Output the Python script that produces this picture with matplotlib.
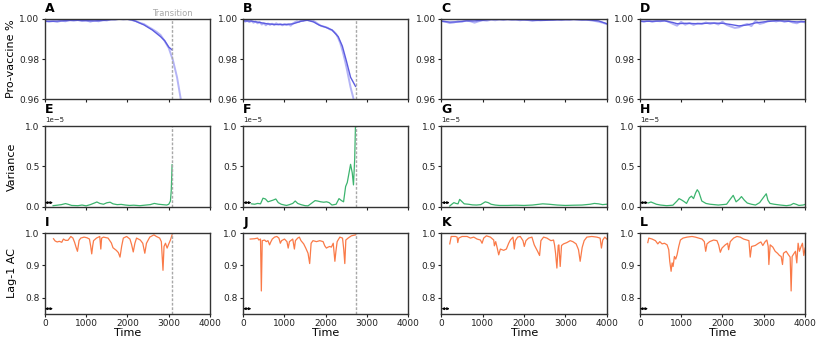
"""
Early-warning indicators for the four simulated runs:
pro-vaccine share, rolling variance and lag-1 autocorrelation.
"""

import numpy as np
import matplotlib
matplotlib.use("Agg")
import matplotlib.pyplot as plt

BLUE, BLUE_LIGHT, GREEN, ORANGE, GRAY = "#5c5ce0", "#b4b4f6", "#3cb46e", "#fa7a48", "#a8a8a8"

LETTERS = "ABCDEFGHIJKL"
TRANSITIONS = [3080, 2720, None, None]   # time of the transition (runs A/B only)
WINDOW = 200                             # rolling window shown by the little arrow
XTICKS = [0, 1000, 2000, 3000, 4000]

# ---- row 1: pro-vaccine fraction (raw, sampled on a regular grid) ----
A_RAW_T = np.arange(0, 3301, 100)
A_RAW = [0.9990, 0.9986, 0.9989, 0.9985, 0.9991, 0.9988, 0.9995, 0.9991, 0.9994, 0.9989,
         0.9993, 0.9986, 0.9992, 0.9988, 0.9994, 0.9992, 0.9998, 0.9996, 1.0000, 0.9997,
         0.9999, 0.9994, 0.9989, 0.9980, 0.9974, 0.9961, 0.9949, 0.9936, 0.9920, 0.9890,
         0.9855, 0.9795, 0.9710, 0.9590]
B_RAW_T = np.arange(0, 2701, 50)
B_RAW = [0.9993, 0.9986, 0.9991, 0.9984, 0.9990, 0.9981, 0.9987, 0.9978, 0.9985, 0.9972,
         0.9978, 0.9968, 0.9977, 0.9970, 0.9976, 0.9969, 0.9978, 0.9972, 0.9975, 0.9968,
         0.9974, 0.9969, 0.9972, 0.9966, 0.9977, 0.9983, 0.9988, 0.9985, 0.9993, 0.9990,
         0.9997, 0.9994, 0.9996, 0.9992, 0.9990, 0.9984, 0.9976, 0.9970, 0.9964, 0.9962,
         0.9959, 0.9955, 0.9948, 0.9944, 0.9936, 0.9925, 0.9905, 0.9880, 0.9845, 0.9805,
         0.9760, 0.9710, 0.9660, 0.9620, 0.9580]
C_RAW_T = np.arange(0, 4001, 100)
C_RAW = [0.9990, 0.9986, 0.9979, 0.9982, 0.9988, 0.9986, 0.9992, 0.9988, 0.9981, 0.9988,
         0.9993, 0.9991, 0.9996, 0.9993, 0.9997, 0.9994, 0.9998, 0.9995, 0.9997, 0.9993,
         0.9996, 0.9994, 0.9990, 0.9993, 0.9996, 0.9994, 0.9997, 0.9995, 0.9998, 0.9994,
         0.9997, 0.9995, 0.9998, 0.9996, 0.9994, 0.9997, 0.9993, 0.9990, 0.9986, 0.9981,
         0.9974]
D_RAW_T = np.arange(0, 4001, 100)
D_RAW = [0.9990, 0.9985, 0.9992, 0.9985, 0.9990, 0.9988, 0.9993, 0.9985, 0.9975, 0.9966,
         0.9985, 0.9971, 0.9980, 0.9970, 0.9978, 0.9974, 0.9982, 0.9975, 0.9980, 0.9972,
         0.9986, 0.9970, 0.9962, 0.9955, 0.9958, 0.9968, 0.9975, 0.9964, 0.9990, 0.9975,
         0.9980, 0.9990, 0.9992, 0.9987, 0.9993, 0.9985, 0.9990, 0.9982, 0.9978, 0.9988,
         0.9982]

# smoothed pro-vaccine fraction, (time, value)
A_SMOOTH = [(0, 0.9988), (200, 0.9988), (400, 0.9990), (600, 0.9992), (800, 0.9993),
            (1000, 0.9991), (1200, 0.9990), (1400, 0.9992), (1600, 0.9996), (1800, 0.9998),
            (2000, 0.9998), (2100, 0.9995), (2200, 0.9988), (2400, 0.9970), (2600, 0.9945),
            (2800, 0.9912), (2900, 0.9892), (3000, 0.9860), (3080, 0.9846)]
B_SMOOTH = [(0, 0.9990), (200, 0.9989), (400, 0.9982), (600, 0.9975), (800, 0.9972),
            (1000, 0.9972), (1200, 0.9975), (1400, 0.9988), (1550, 0.9993), (1700, 0.9985),
            (1850, 0.9968), (2000, 0.9958), (2150, 0.9945), (2300, 0.9912), (2400, 0.9865),
            (2500, 0.9790), (2600, 0.9710), (2720, 0.9665)]
C_SMOOTH = [(0, 0.9988), (200, 0.9984), (400, 0.9985), (600, 0.9990), (800, 0.9990),
            (1000, 0.9993), (1200, 0.9997), (1600, 0.9997), (2000, 0.9995), (2400, 0.9992),
            (2800, 0.9995), (3200, 0.9997), (3600, 0.9994), (3800, 0.9990), (4000, 0.9976)]
D_SMOOTH = [(0, 0.9988), (300, 0.9988), (600, 0.9990), (800, 0.9982), (900, 0.9976),
            (1100, 0.9978), (1400, 0.9976), (1700, 0.9979), (2000, 0.9978), (2200, 0.9972),
            (2400, 0.9965), (2600, 0.9970), (2800, 0.9980), (3000, 0.9985), (3300, 0.9991),
            (3600, 0.9988), (3800, 0.9985), (4000, 0.9986)]

# ---- row 2: rolling variance, in units of 1e-5 ----
E_VAR = [(200, 0.012), (300, 0.018), (400, 0.025), (500, 0.038), (560, 0.030), (650, 0.015),
         (800, 0.012), (900, 0.020), (1000, 0.010), (1100, 0.025), (1200, 0.045), (1260, 0.058),
         (1330, 0.040), (1420, 0.030), (1500, 0.048), (1580, 0.055), (1650, 0.035), (1750, 0.025),
         (1850, 0.028), (1950, 0.020), (2050, 0.015), (2150, 0.018), (2300, 0.012), (2450, 0.020),
         (2550, 0.025), (2650, 0.040), (2750, 0.030), (2850, 0.025), (2950, 0.020), (3000, 0.030),
         (3040, 0.070), (3060, 0.200), (3080, 0.520)]
F_VAR = [(200, 0.035), (280, 0.030), (350, 0.040), (420, 0.035), (480, 0.105), (540, 0.095),
         (600, 0.060), (660, 0.070), (720, 0.080), (790, 0.095), (850, 0.050), (920, 0.030),
         (1000, 0.020), (1050, 0.015), (1120, 0.025), (1200, 0.040), (1260, 0.070), (1320, 0.040),
         (1400, 0.025), (1500, 0.012), (1570, 0.010), (1650, 0.040), (1740, 0.075), (1800, 0.070),
         (1880, 0.060), (1950, 0.055), (2020, 0.060), (2080, 0.050), (2150, 0.020), (2250, 0.030),
         (2320, 0.100), (2380, 0.075), (2430, 0.060), (2480, 0.250), (2520, 0.300), (2600, 0.525),
         (2640, 0.420), (2670, 0.270), (2700, 0.600), (2720, 1.050)]
G_VAR = [(200, 0.008), (250, 0.030), (300, 0.050), (350, 0.040), (400, 0.035), (440, 0.090),
         (480, 0.070), (550, 0.035), (650, 0.030), (750, 0.022), (850, 0.020), (950, 0.025),
         (1060, 0.060), (1130, 0.050), (1200, 0.030), (1300, 0.020), (1400, 0.015), (1600, 0.015),
         (1800, 0.018), (2000, 0.015), (2200, 0.020), (2450, 0.035), (2600, 0.030), (2800, 0.020),
         (3000, 0.015), (3200, 0.018), (3400, 0.020), (3600, 0.030), (3700, 0.040), (3800, 0.035),
         (3900, 0.025), (4000, 0.030)]
H_VAR = [(200, 0.045), (270, 0.058), (330, 0.045), (400, 0.030), (500, 0.020), (650, 0.012),
         (800, 0.018), (900, 0.070), (950, 0.100), (1020, 0.080), (1080, 0.060), (1130, 0.040),
         (1200, 0.110), (1250, 0.130), (1300, 0.100), (1350, 0.170), (1390, 0.210), (1430, 0.180),
         (1500, 0.070), (1600, 0.040), (1700, 0.030), (1800, 0.025), (1900, 0.020), (2000, 0.025),
         (2100, 0.030), (2200, 0.100), (2260, 0.140), (2330, 0.060), (2400, 0.090), (2460, 0.125),
         (2530, 0.080), (2600, 0.045), (2700, 0.030), (2800, 0.020), (2900, 0.050), (3000, 0.120),
         (3060, 0.160), (3100, 0.080), (3150, 0.040), (3250, 0.030), (3400, 0.020), (3550, 0.012),
         (3650, 0.020), (3720, 0.040), (3780, 0.030), (3850, 0.015), (3950, 0.020), (4000, 0.028)]

# ---- row 3: lag-1 autocorrelation ----
I_AC = [(210, 0.983), (250, 0.976), (300, 0.973), (350, 0.975), (410, 0.972), (450, 0.982),
        (500, 0.978), (560, 0.978), (630, 0.990), (680, 0.985), (720, 0.972), (760, 0.955),
        (790, 0.944), (830, 0.978), (870, 0.985), (950, 0.988), (1020, 0.986), (1080, 0.982),
        (1110, 0.960), (1135, 0.936), (1160, 0.962), (1180, 0.977), (1250, 0.985), (1330, 0.990),
        (1355, 0.951), (1375, 0.985), (1420, 0.988), (1530, 0.985), (1610, 0.970), (1650, 0.955),
        (1690, 0.951), (1730, 0.947), (1780, 0.940), (1820, 0.926), (1860, 0.960), (1900, 0.985),
        (1980, 0.990), (2060, 0.982), (2100, 0.965), (2140, 0.942), (2180, 0.969), (2220, 0.985),
        (2310, 0.979), (2370, 0.969), (2420, 0.938), (2460, 0.969), (2540, 0.988), (2640, 0.995),
        (2700, 0.990), (2780, 0.985), (2820, 0.974), (2860, 0.885), (2885, 0.959), (2920, 0.969),
        (2960, 0.954), (3000, 0.967), (3040, 0.979), (3080, 0.995)]
J_AC = [(170, 0.982), (275, 0.983), (350, 0.985), (380, 0.979), (420, 0.982), (440, 0.821),
        (462, 0.977), (518, 0.979), (560, 0.974), (600, 0.977), (640, 0.964), (665, 0.972),
        (705, 0.982), (760, 0.988), (815, 0.990), (865, 0.985), (900, 0.969), (930, 0.977),
        (1000, 0.982), (1060, 0.974), (1090, 0.954), (1120, 0.974), (1200, 0.982), (1240, 0.951),
        (1265, 0.977), (1320, 0.985), (1360, 0.988), (1400, 0.977), (1465, 0.967), (1515, 0.954),
        (1570, 0.938), (1610, 0.906), (1645, 0.969), (1690, 0.977), (1775, 0.974), (1855, 0.977),
        (1935, 0.974), (1975, 0.961), (2015, 0.954), (2055, 0.957), (2095, 0.959), (2135, 0.957),
        (2180, 0.969), (2220, 0.913), (2245, 0.944), (2275, 0.974), (2340, 0.988), (2405, 0.985),
        (2435, 0.949), (2460, 0.906), (2485, 0.979), (2540, 0.985), (2620, 0.992), (2720, 0.995)]
K_AC = [(200, 0.967), (235, 0.990), (338, 0.990), (378, 0.988), (394, 0.971), (418, 0.985),
        (499, 0.990), (620, 0.990), (700, 0.985), (781, 0.988), (861, 0.982), (942, 0.979),
        (982, 0.969), (1022, 0.985), (1087, 0.992), (1184, 0.988), (1264, 0.979), (1280, 0.961),
        (1312, 0.974), (1344, 0.957), (1385, 0.933), (1425, 0.951), (1505, 0.947), (1570, 0.951),
        (1626, 0.969), (1666, 0.979), (1730, 0.988), (1763, 0.951), (1787, 0.977), (1843, 0.988),
        (1907, 0.990), (1972, 0.977), (2004, 0.959), (2044, 0.977), (2108, 0.985), (2189, 0.988),
        (2245, 0.964), (2285, 0.954), (2326, 0.944), (2374, 0.931), (2406, 0.977), (2471, 0.988),
        (2551, 0.985), (2648, 0.977), (2712, 0.979), (2736, 0.964), (2761, 0.938), (2793, 0.892),
        (2825, 0.962), (2841, 0.964), (2873, 0.897), (2905, 0.962), (2954, 0.967), (3034, 0.971),
        (3115, 0.977), (3179, 0.974), (3259, 0.967), (3316, 0.949), (3356, 0.913), (3405, 0.956),
        (3453, 0.977), (3518, 0.988), (3638, 0.990), (3759, 0.988), (3839, 0.985), (3871, 0.954),
        (3903, 0.979), (3952, 0.988), (4000, 0.982)]
L_AC = [(193, 0.971), (217, 0.985), (298, 0.982), (378, 0.977), (435, 0.967), (483, 0.974),
        (539, 0.967), (596, 0.969), (660, 0.964), (700, 0.949), (724, 0.913), (757, 0.882),
        (781, 0.908), (805, 0.897), (837, 0.928), (869, 0.920), (901, 0.933), (942, 0.959),
        (982, 0.979), (1046, 0.985), (1143, 0.988), (1264, 0.990), (1344, 0.988), (1425, 0.985),
        (1505, 0.982), (1561, 0.974), (1594, 0.944), (1626, 0.967), (1690, 0.974), (1787, 0.979),
        (1867, 0.977), (1907, 0.964), (1948, 0.941), (1988, 0.954), (2068, 0.964), (2125, 0.969),
        (2149, 0.949), (2189, 0.974), (2270, 0.985), (2350, 0.990), (2430, 0.988), (2511, 0.982),
        (2591, 0.979), (2640, 0.977), (2672, 0.926), (2704, 0.959), (2793, 0.962), (2873, 0.969),
        (2929, 0.973), (2977, 0.962), (3034, 0.974), (3074, 0.979), (3107, 0.959), (3123, 0.903),
        (3155, 0.964), (3219, 0.957), (3276, 0.944), (3332, 0.938), (3380, 0.931), (3421, 0.928),
        (3453, 0.903), (3477, 0.938), (3542, 0.944), (3598, 0.933), (3638, 0.926), (3662, 0.821),
        (3686, 0.928), (3735, 0.938), (3767, 0.944), (3799, 0.908), (3831, 0.969), (3863, 0.944),
        (3903, 0.959), (3936, 0.969), (3968, 0.931), (4000, 0.954)]

RAW = [(A_RAW_T, A_RAW), (B_RAW_T, B_RAW), (C_RAW_T, C_RAW), (D_RAW_T, D_RAW)]
SMOOTH = [A_SMOOTH, B_SMOOTH, C_SMOOTH, D_SMOOTH]
VARIANCE = [E_VAR, F_VAR, G_VAR, H_VAR]
AUTOCORR = [I_AC, J_AC, K_AC, L_AC]


def xy(pairs):
    arr = np.array(pairs, dtype=float)
    return arr[:, 0], arr[:, 1]


def style(ax):
    for s in ax.spines.values():
        s.set_color("#333333")
        s.set_linewidth(1.0)
    ax.tick_params(labelsize=6.5, length=2.5, width=0.8, pad=1.5, colors="#222222")
    ax.set_xlim(0, 4000)
    ax.set_xticks(XTICKS)


def window_arrow(ax, y):
    ax.annotate("", xy=(0, y), xytext=(WINDOW, y),
                arrowprops=dict(arrowstyle="<->", lw=0.9, color="black", mutation_scale=3,
                                shrinkA=0, shrinkB=0))


fig, axes = plt.subplots(3, 4, figsize=(8.3, 3.43), dpi=100, sharex=True)
fig.subplots_adjust(left=0.054, right=0.970, top=0.945, bottom=0.085, wspace=0.2, hspace=0.33)

for col in range(4):
    tr = TRANSITIONS[col]
    ax1, ax2, ax3 = axes[0, col], axes[1, col], axes[2, col]

    # pro-vaccine share
    rt, rv = RAW[col]
    ax1.plot(rt, rv, color=BLUE_LIGHT, lw=1.4)
    st, sv = xy(SMOOTH[col])
    ax1.plot(st, sv, color=BLUE, lw=1.0)
    ax1.set_ylim(0.96, 1.0)
    ax1.set_yticks([0.96, 0.98, 1.00])
    ax1.set_yticklabels(["0.96", "0.98", "1.00"])

    # variance
    vt, vv = xy(VARIANCE[col])
    ax2.plot(vt, vv * 1e-5, color=GREEN, lw=0.9)
    ax2.set_ylim(0, 1e-5)
    ax2.set_yticks([0, 0.5e-5, 1e-5])
    window_arrow(ax2, 0.05e-5)

    # lag-1 autocorrelation
    at, av = xy(AUTOCORR[col])
    ax3.plot(at, av, color=ORANGE, lw=0.9)
    ax3.set_ylim(0.75, 1.0)
    ax3.set_yticks([0.8, 0.9, 1.0])
    window_arrow(ax3, 0.766)
    ax3.set_xlabel("Time", fontsize=8, labelpad=0)

    for row, ax in enumerate((ax1, ax2, ax3)):
        style(ax)
        if tr is not None:
            ax.axvline(tr, color=GRAY, lw=1.0, ls=(0, (2, 1.2)))
        ypos = 1.12 if row == 1 else 1.05
        ax.text(0.0, ypos, LETTERS[row * 4 + col], transform=ax.transAxes,
                fontsize=9, fontweight="bold", ha="left", va="bottom")
    ax2.yaxis.get_offset_text().set_fontsize(5)

axes[0, 0].text(TRANSITIONS[0], 1.0005, "Transition", color=GRAY, fontsize=6,
                ha="center", va="bottom")
axes[0, 0].set_ylabel("Pro-vaccine %", fontsize=8, labelpad=2)
axes[1, 0].set_ylabel("Variance", fontsize=8, labelpad=6)
axes[2, 0].set_ylabel("Lag-1 AC", fontsize=8, labelpad=6)

fig.savefig("out.png", dpi=100)
